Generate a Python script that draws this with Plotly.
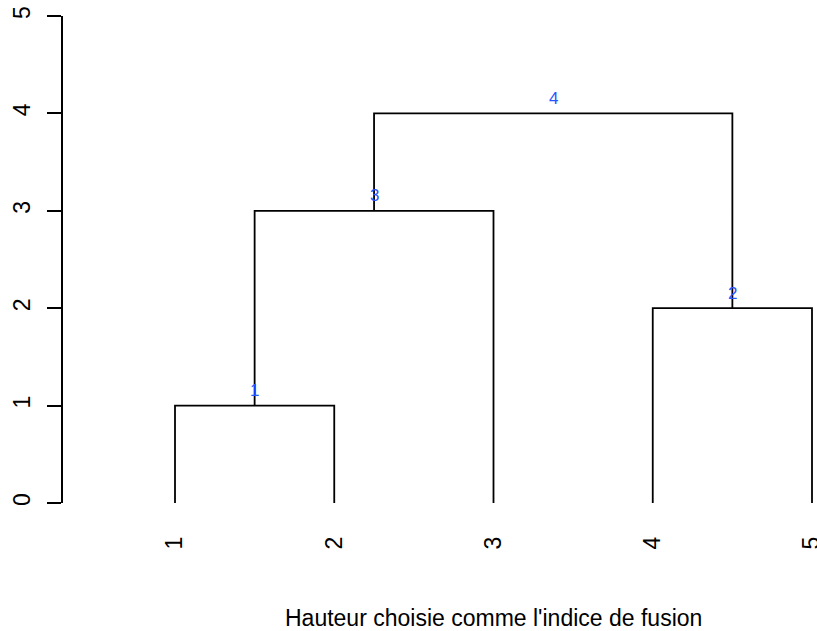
import plotly.graph_objects as go

# Hierarchical clustering result (R-style merge matrix: negative = leaf, positive = earlier merge)
leaf_labels = ["1", "2", "3", "4", "5"]
merge = [[-1, -2], [-4, -5], [1, -3], [3, 2]]
heights = [1, 2, 3, 4]
node_labels = ["1", "2", "3", "4"]
y_ticks = [0, 1, 2, 3, 4, 5]
x_title = "Hauteur choisie comme l'indice de fusion"

FONT = "Liberation Sans, Arial, Helvetica, sans-serif"
BLUE = "#2a55ff"

# leaf order equals label order here
leaf_pos = {i + 1: float(i + 1) for i in range(len(leaf_labels))}

node_x, node_h = [], []


def child_coord(c):
    if c < 0:
        return leaf_pos[-c], 0.0
    return node_x[c - 1], node_h[c - 1]


xs, ys = [], []
for (a, b), h in zip(merge, heights):
    xa, ha = child_coord(a)
    xb, hb = child_coord(b)
    xs += [xa, xa, xb, xb, None]
    ys += [ha, h, h, hb, None]
    node_x.append((xa + xb) / 2)
    node_h.append(h)

fig = go.Figure()
fig.add_trace(go.Scatter(
    x=xs, y=ys, mode="lines",
    line=dict(color="black", width=1.8),
    hoverinfo="skip", showlegend=False,
))

annotations = []
for x, h, lab in zip(node_x, node_h, node_labels):
    annotations.append(dict(
        x=x, y=h, xref="x", yref="y", text=lab, showarrow=False,
        yshift=15, yanchor="middle", xanchor="center",
        font=dict(family=FONT, size=17, color=BLUE),
    ))

# axis title centred under the middle of the leaf range
annotations.append(dict(
    x=(1 + len(leaf_labels)) / 2, y=0, xref="x", yref="paper",
    text=x_title, showarrow=False, yanchor="middle", xanchor="center",
    yshift=-115, font=dict(family=FONT, size=23, color="black"),
))

n = len(leaf_labels)
fig.update_layout(
    width=817, height=631,
    margin=dict(l=63, r=0, t=16, b=128),
    plot_bgcolor="white", paper_bgcolor="white",
    font=dict(family=FONT, color="black"),
    annotations=annotations,
    xaxis=dict(
        range=[1 - 0.7033, n + 0.0314],
        tickvals=[leaf_pos[i + 1] for i in range(n)],
        ticktext=leaf_labels,
        tickangle=-90,
        ticks="", showline=False, showgrid=False, zeroline=False,
        tickfont=dict(family=FONT, size=23, color="black"),
        ticklabelstandoff=28,
        ticklabeloverflow="allow",
        automargin=False,
    ),
    yaxis=dict(
        range=[0, 5],
        tickvals=y_ticks,
        ticktext=[str(v) for v in y_ticks],
        tickangle=-90,
        ticks="outside", ticklen=14, tickwidth=1.8, tickcolor="black",
        showline=True, linecolor="black", linewidth=1.8,
        showgrid=False, zeroline=False,
        tickfont=dict(family=FONT, size=23, color="black"),
        ticklabelstandoff=8,
        ticklabeloverflow="allow",
        automargin=False,
    ),
)

fig.write_html("out.html")
